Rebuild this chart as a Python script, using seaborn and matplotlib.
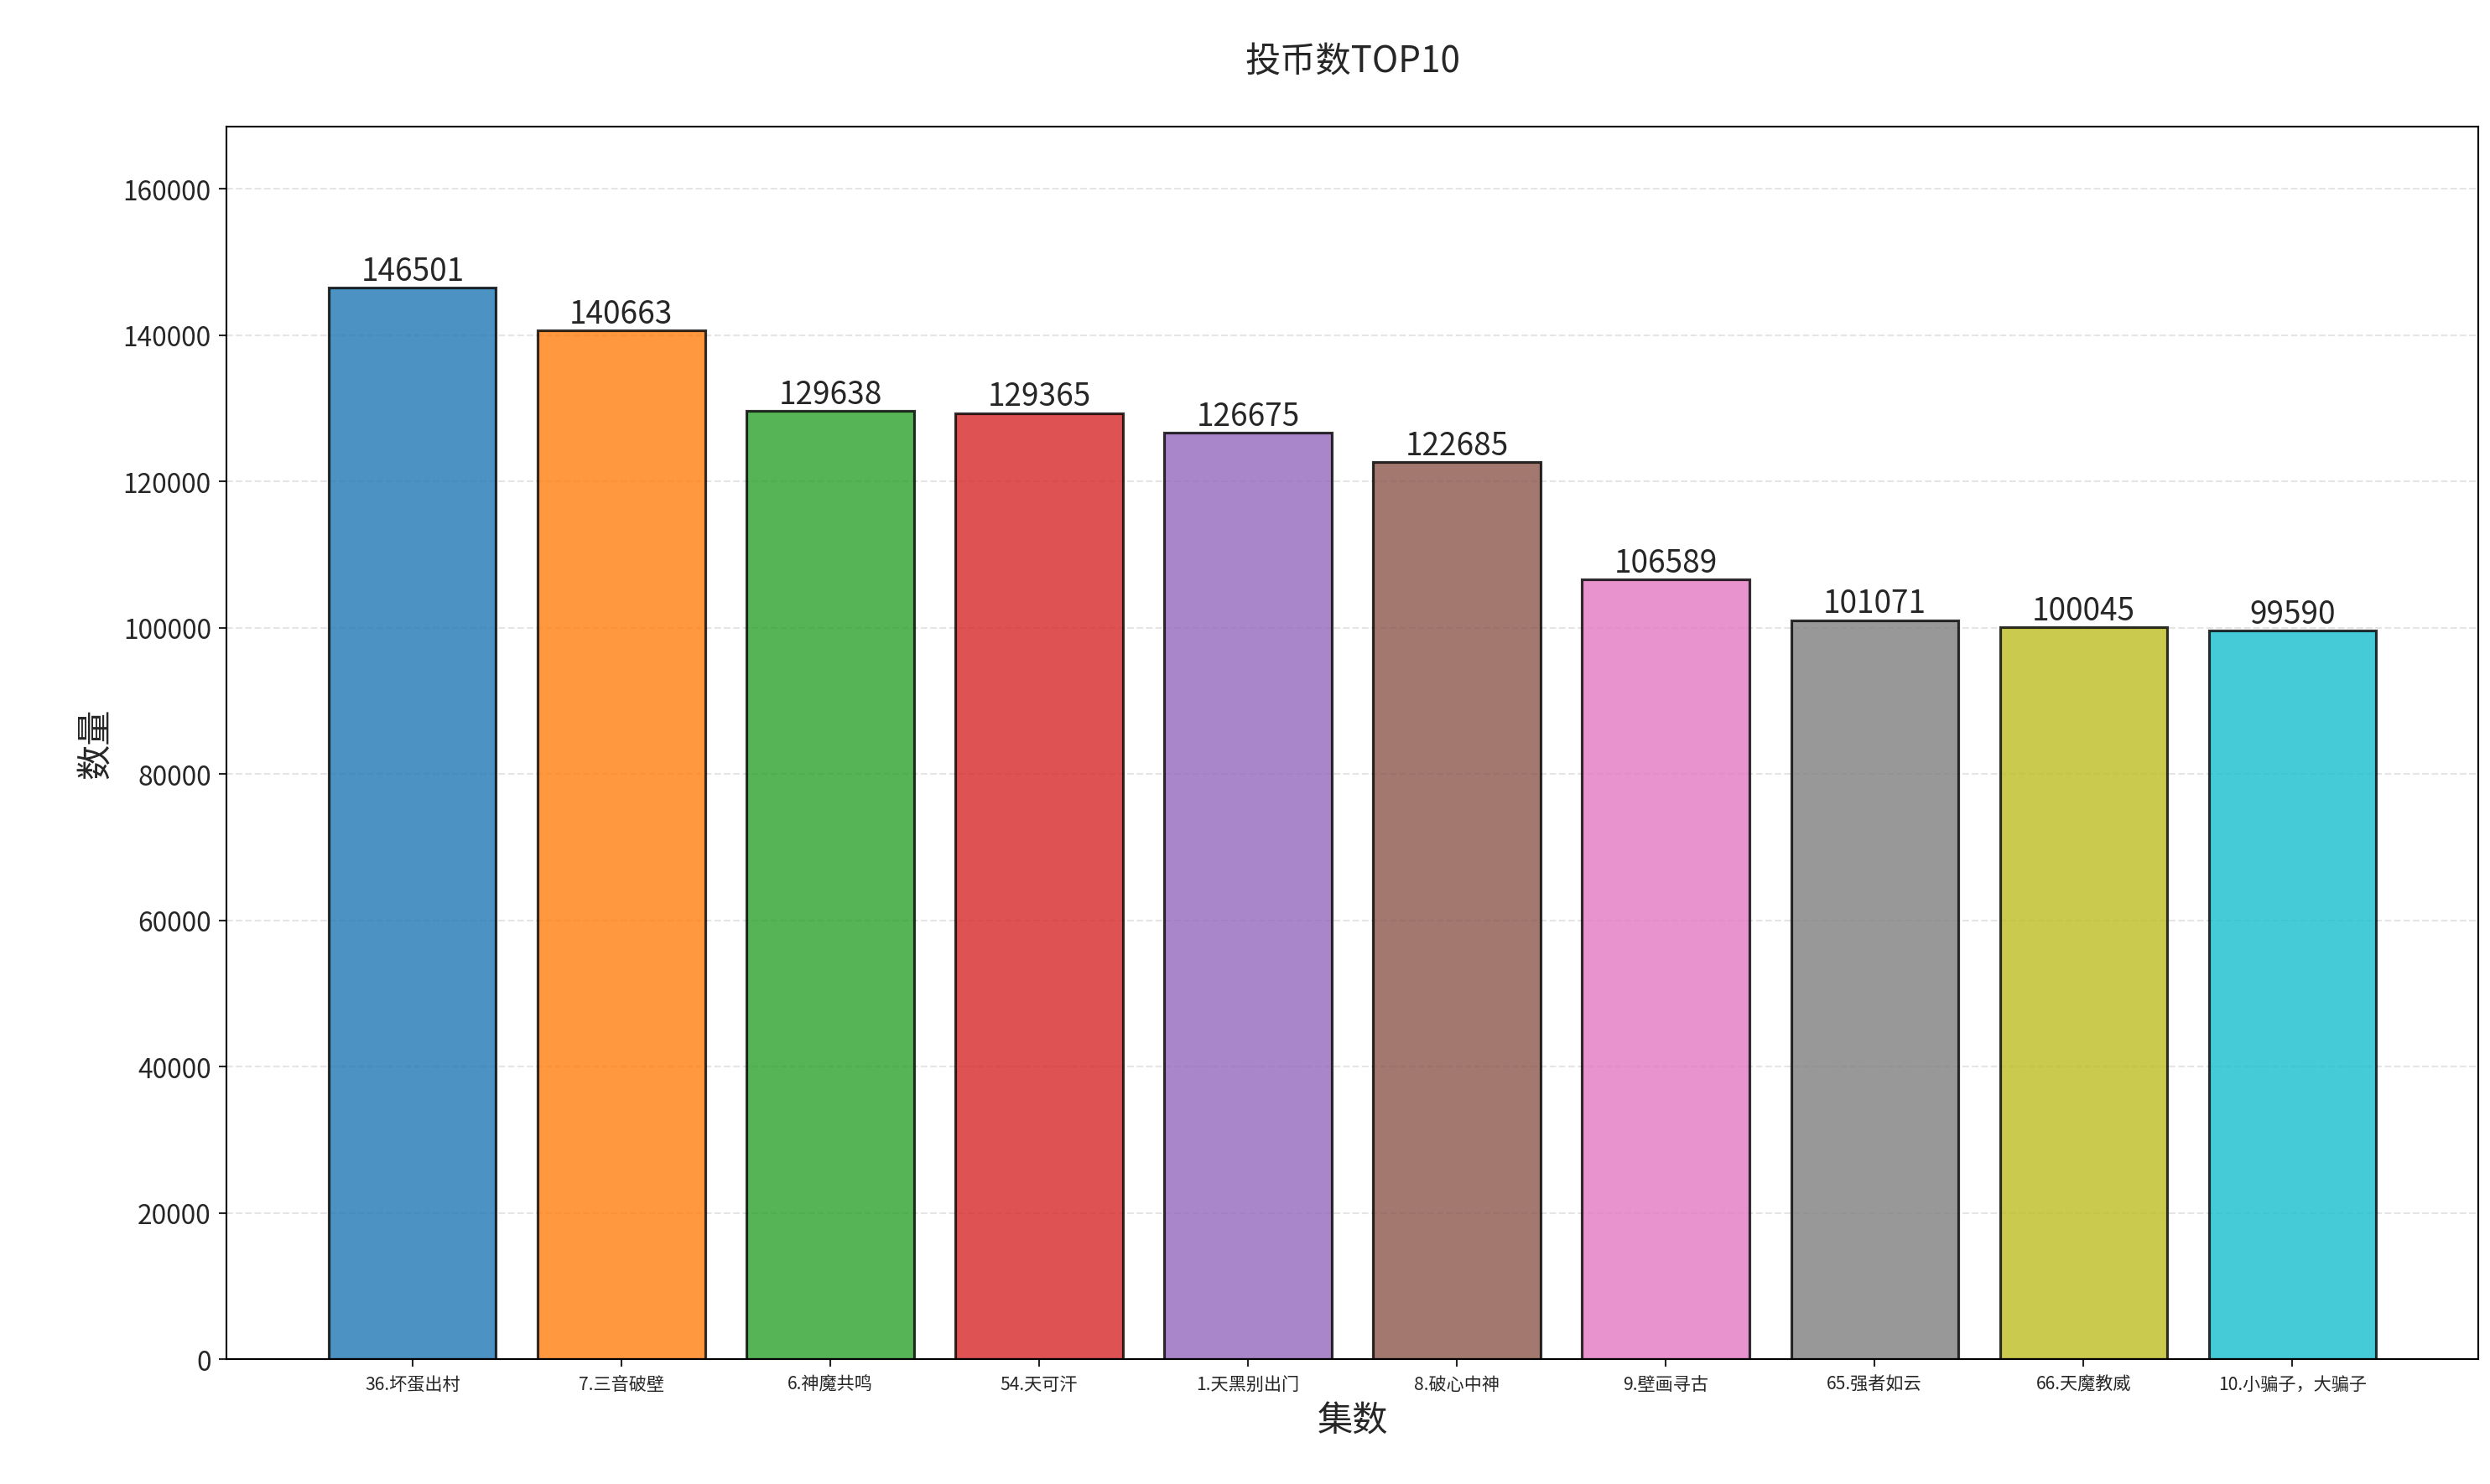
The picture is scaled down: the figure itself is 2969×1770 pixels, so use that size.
import matplotlib
matplotlib.use('Agg')
import matplotlib.pyplot as plt
import seaborn as sns
import pandas as pd

# data
episodes = ['36.坏蛋出村', '7.三音破壁', '6.神魔共鸣', '54.天可汗', '1.天黑别出门',
            '8.破心中神', '9.壁画寻古', '65.强者如云', '66.天魔教威', '10.小骗子，大骗子']
coins = [146501, 140663, 129638, 129365, 126675, 122685, 106589, 101071, 100045, 99590]

df = pd.DataFrame({'集数': episodes, '数量': coins})

sns.set_style('ticks')
plt.rcParams['font.family'] = ['Noto Sans CJK SC', 'DejaVu Sans']

fig, ax = plt.subplots(figsize=(15.63, 9.32), dpi=190)
sns.barplot(data=df, x='集数', y='数量', hue='集数', palette='tab10', alpha=0.8,
            saturation=1, edgecolor='black', linewidth=1.2, width=0.8,
            legend=False, ax=ax)

for i, v in enumerate(coins):
    ax.text(i, v, str(v), ha='center', va='bottom', fontsize=14)

ax.set_xlim(-0.89, len(coins) - 1 + 0.89)
ax.set_ylim(0, max(coins) * 1.15)
ax.yaxis.grid(True, linestyle='--', alpha=0.5)
ax.set_axisbelow(True)
ax.set_title('投币数TOP10', fontsize=16, pad=25)
ax.set_xlabel('集数', fontsize=16)
ax.set_ylabel('数量', fontsize=16)
ax.tick_params(axis='x', labelsize=8)
ax.tick_params(axis='y', labelsize=12)
for s in ax.spines.values():
    s.set_color('black')

fig.subplots_adjust(left=0.091, right=0.995, top=0.914, bottom=0.084)
plt.savefig('out.png', dpi=190)
plt.close()
